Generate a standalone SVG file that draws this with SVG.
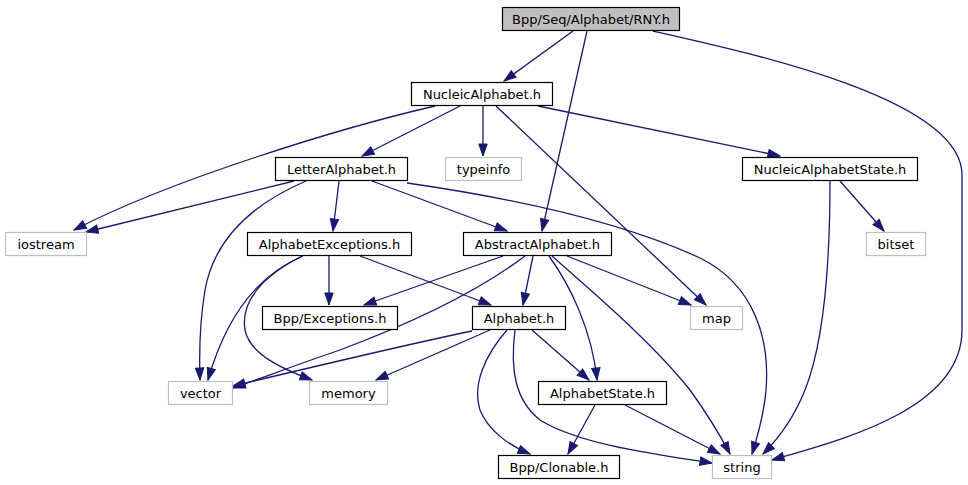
<svg xmlns="http://www.w3.org/2000/svg" width="968" height="485" viewBox="0 0 968 485">
<style>
.n rect{fill:#fff;stroke:#000;stroke-width:1.2}
.n.root rect{fill:#bfbfbf}
.n.ext rect{stroke:#bfbfbf}
.n text{font-family:"DejaVu Sans",sans-serif;font-size:13px;text-anchor:middle;fill:#000}
.e path{fill:none;stroke:#191970;stroke-width:1.3;marker-end:url(#ah)}
</style>
<defs>
<marker id="ah" markerUnits="userSpaceOnUse" markerWidth="14" markerHeight="10" viewBox="0 0 14 10" refX="13" refY="5" orient="auto">
<path d="M1,0.8 L13,5 L1,9.2 z" fill="#191970" stroke="#191970"/>
</marker>
</defs>
<rect width="968" height="485" fill="#fff"/>
<g id="edges" class="e">
<path d="M573,31 L504,81"/>
<path d="M587,31 L542,231"/>
<path d="M653,31 C760,55 962,100 962,175 L962,330 C962,410 840,440 772,460"/>
<path d="M435,106 C340,128 170,180 74,230"/>
<path d="M460,106 L362,156"/>
<path d="M483,106 L483,156"/>
<path d="M496,106 L706,305"/>
<path d="M538,106 L780,156"/>
<path d="M294,181 L86,232"/>
<path d="M306,181 C250,205 214,240 205,290 C200,320 199,350 200,380"/>
<path d="M339,181 L333,231"/>
<path d="M372,181 L507,231"/>
<path d="M407,183 C560,205 650,235 700,258 C755,285 770,340 766,390 C764,415 758,435 752,454"/>
<path d="M830,181 C830,260 825,340 805,390 C795,415 780,437 763,454"/>
<path d="M840,181 L884,231"/>
<path d="M303,256 C255,276 225,320 208,380"/>
<path d="M302,256 C265,275 240,300 245,330 C250,355 285,370 312,380"/>
<path d="M329,256 L329,305"/>
<path d="M360,256 L491,305"/>
<path d="M503,256 L364,305"/>
<path d="M525,256 C480,290 420,320 340,350 C290,367 262,378 233,388"/>
<path d="M533,256 L523,305"/>
<path d="M567,256 L691,305"/>
<path d="M549,256 C570,285 592,330 597,380"/>
<path d="M552,256 C590,290 650,340 690,390 C708,415 720,435 730,454"/>
<path d="M472,331 C400,346 300,370 233,386"/>
<path d="M490,330 L376,380"/>
<path d="M507,330 C485,355 472,385 480,410 C488,430 508,445 530,454"/>
<path d="M515,330 C510,370 515,400 540,420 C580,445 660,455 712,463"/>
<path d="M532,330 L589,380"/>
<path d="M595,405 L568,454"/>
<path d="M625,405 L720,454"/>
</g>
<g id="n_rny" class="n root"><rect x="502.5" y="7.5" width="177" height="23"/><text x="591" y="24">Bpp/Seq/Alphabet/RNY.h</text></g>
<g id="n_nucleic" class="n"><rect x="411.5" y="82.5" width="141" height="23"/><text x="482" y="99">NucleicAlphabet.h</text></g>
<g id="n_letter" class="n"><rect x="275.5" y="157.5" width="132" height="23"/><text x="341.5" y="174">LetterAlphabet.h</text></g>
<g id="n_typeinfo" class="n ext"><rect x="445.5" y="157.5" width="76" height="23"/><text x="483.5" y="174">typeinfo</text></g>
<g id="n_nas" class="n"><rect x="742.5" y="157.5" width="175" height="23"/><text x="830" y="174">NucleicAlphabetState.h</text></g>
<g id="n_iostream" class="n ext"><rect x="5.5" y="232.5" width="81" height="23"/><text x="46" y="249">iostream</text></g>
<g id="n_ae" class="n"><rect x="247.5" y="232.5" width="164" height="23"/><text x="329.5" y="249">AlphabetExceptions.h</text></g>
<g id="n_aa" class="n"><rect x="463.5" y="232.5" width="148" height="23"/><text x="537.5" y="249">AbstractAlphabet.h</text></g>
<g id="n_bitset" class="n ext"><rect x="866.5" y="232.5" width="59" height="23"/><text x="896" y="249">bitset</text></g>
<g id="n_bppexc" class="n"><rect x="262.5" y="306.5" width="135" height="23"/><text x="330" y="323">Bpp/Exceptions.h</text></g>
<g id="n_alphabet" class="n"><rect x="472.5" y="306.5" width="93" height="23"/><text x="519" y="323">Alphabet.h</text></g>
<g id="n_map" class="n ext"><rect x="690.5" y="306.5" width="52" height="23"/><text x="716.5" y="323">map</text></g>
<g id="n_vector" class="n ext"><rect x="168.5" y="381.5" width="64" height="23"/><text x="200.5" y="398">vector</text></g>
<g id="n_memory" class="n ext"><rect x="309.5" y="381.5" width="78" height="23"/><text x="348.5" y="398">memory</text></g>
<g id="n_as" class="n"><rect x="538.5" y="381.5" width="128" height="23"/><text x="602.5" y="398">AlphabetState.h</text></g>
<g id="n_clonable" class="n"><rect x="498.5" y="455.5" width="121" height="23"/><text x="559" y="472">Bpp/Clonable.h</text></g>
<g id="n_string" class="n ext"><rect x="712.5" y="455.5" width="59" height="23"/><text x="742" y="472">string</text></g>
</svg>
